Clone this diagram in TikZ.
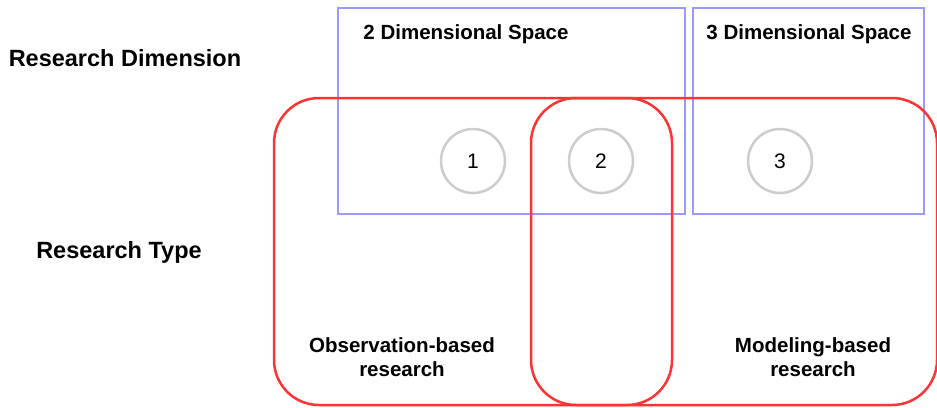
\documentclass[tikz,border=0pt]{standalone}
\usepackage{fontspec}
\setmainfont{Liberation Sans}
\definecolor{dimblue}{HTML}{9999FF}
\definecolor{typered}{HTML}{FF3333}
\definecolor{ringgray}{HTML}{CCCCCC}
\tikzset{
  dimbox/.style={draw=dimblue, line width=2.5pt, inner sep=0pt, minimum height=206pt},
  typebox/.style={draw=typered, line width=2.5pt, rounded corners=45pt, inner sep=0pt, minimum height=307pt},
  ring/.style={draw=ringgray, line width=2.5pt, circle, minimum size=64pt, inner sep=0pt, font=\fontsize{21}{24}\selectfont},
  heading/.style={font=\fontsize{20.5}{24}\selectfont\bfseries, align=center},
  sidehead/.style={font=\fontsize{23.5}{28}\selectfont\bfseries}
}
\begin{document}
\begin{tikzpicture}[x=1pt, y=-1pt]
\useasboundingbox (0,0) rectangle (937,407);

\node[sidehead] (rdim) at (125,58) {Research Dimension};
\node[sidehead] (rtype) at (119,252) {Research Type};

\node[dimbox, minimum width=347pt] (d2) at (511.5,111) {};
\node[dimbox, minimum width=231pt] (d3) at (808.5,111) {};
\node[heading] (d2lbl) at (466,34) {2 Dimensional Space};
\node[heading] (d3lbl) at (809,34) {3 Dimensional Space};

\node[ring] (c1) at (473,161) {1};
\node[ring] (c2) at (601,161) {2};
\node[ring] (c3) at (780,161) {3};

\node[typebox, minimum width=398pt] (obs) at (473,251.5) {};
\node[typebox, minimum width=406pt] (mod) at (734,251.5) {};
\node[heading] (obslbl) at (402,357) {Observation-based\\research};
\node[heading] (modlbl) at (813,357) {Modeling-based\\research};
\end{tikzpicture}
\end{document}
